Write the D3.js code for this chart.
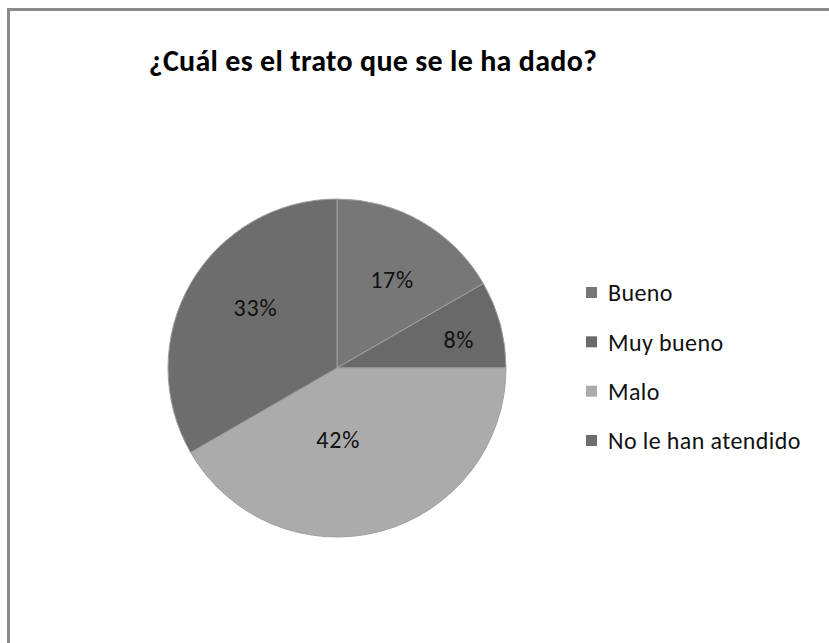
<!DOCTYPE html>
<html>
<head>
<meta charset="utf-8">
<script src="https://cdn.jsdelivr.net/npm/d3@7"></script>
<style>
  body { margin: 0; background: #fff; }
  svg { display: block; font-family: Carlito, "Liberation Sans", Arial, sans-serif; }
</style>
</head>
<body>
<div id="chart"></div>
<script>
// Datos
const categories = ["Bueno", "Muy bueno", "Malo", "No le han atendido"];
const values = [2, 1, 5, 4];
const labels = ["17%", "8%", "42%", "33%"];
const colors = ["#777777", "#696969", "#ababab", "#6d6d6d"];

// posición de las etiquetas (fracción del radio, desvío de ángulo en grados)
const labelPos = [[0.615, 2], [0.74, 2], [0.425, 14], [0.6, 6.5]];

const W = 829, H = 643;
const svg = d3.select("#chart").append("svg").attr("width", W).attr("height", H);

// marco del área del gráfico
svg.append("rect").attr("x", 8.5).attr("y", 9.5).attr("width", W + 20).attr("height", H + 20)
  .attr("fill", "#fff").attr("stroke", "#8a8a8a").attr("stroke-width", 3);

svg.append("text").attr("x", 373).attr("y", 71).attr("text-anchor", "middle")
  .attr("font-size", 30).attr("font-weight", "bold").attr("letter-spacing", 0.3).attr("fill", "#000")
  .text("¿Cuál es el trato que se le ha dado?");

const cx = 337, cy = 368, r = 169;
const data = categories.map((c, i) => ({name: c, value: values[i], label: labels[i], color: colors[i], pos: labelPos[i]}));

const pie = d3.pie().value(d => d.value).sort(null);
const arc = d3.arc().innerRadius(0).outerRadius(r);

const g = svg.append("g").attr("transform", `translate(${cx},${cy})`);
const arcs = pie(data);

g.selectAll("path").data(arcs).enter().append("path")
  .attr("d", arc).attr("fill", d => d.data.color)
  .attr("stroke", "#a0a0a0").attr("stroke-width", 1);

g.selectAll("text").data(arcs).enter().append("text")
  .attr("transform", d => {
    const a = (d.startAngle + d.endAngle) / 2 + d.data.pos[1] * Math.PI / 180;
    const rr = r * d.data.pos[0];
    return `translate(${rr * Math.sin(a)},${-rr * Math.cos(a)})`;
  })
  .attr("text-anchor", "middle").attr("dy", "0.35em")
  .attr("font-size", 24).attr("letter-spacing", 0.8).attr("fill", "#111")
  .text(d => d.data.label);

// leyenda
const legend = svg.append("g").attr("transform", "translate(586,0)");
const ly = d3.scalePoint().domain(categories).range([293, 441]);
const item = legend.selectAll("g").data(data).enter().append("g")
  .attr("transform", d => `translate(0,${ly(d.name)})`);
item.append("rect").attr("x", 0).attr("y", -6).attr("width", 11).attr("height", 11)
  .attr("fill", d => d.color);
item.append("text").attr("x", 22).attr("y", 0).attr("dy", "0.35em")
  .attr("font-size", 24).attr("letter-spacing", 0.4).attr("fill", "#111").text(d => d.name);
</script>
</body>
</html>
